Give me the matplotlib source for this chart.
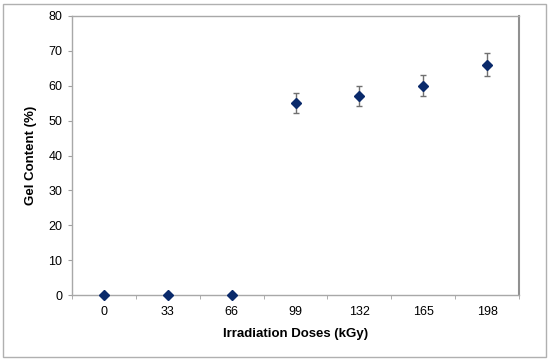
import matplotlib
matplotlib.use('Agg')
import matplotlib.pyplot as plt
from matplotlib.patches import Rectangle
import numpy as np

doses = ['0', '33', '66', '99', '132', '165', '198']
gel = [0, 0, 0, 55, 57, 60, 66]
err = [0, 0, 0, 2.8, 2.9, 3.0, 3.3]

plt.rcParams['font.family'] = ['Liberation Sans', 'DejaVu Sans']

fig = plt.figure(figsize=(5.5, 3.6), dpi=100)
ax = fig.add_axes([72/550, 1 - 295/360, 447/550, 279/360])

x = np.arange(len(doses))
has_err = np.array(err) > 0
ax.errorbar(x[has_err], np.array(gel)[has_err], yerr=np.array(err)[has_err],
            fmt='none', ecolor='#707070', elinewidth=1, capsize=2, capthick=1, zorder=2)
ax.plot(x, gel, linestyle='none', marker='D', markersize=5.5,
        color='#0a2a6b', markeredgecolor='#0a2a6b', zorder=3, clip_on=False)

ax.set_xlim(-0.5, len(doses) - 0.5)
ax.set_ylim(0, 80)
ax.set_yticks(range(0, 81, 10))
ax.set_xticks(x)
ax.set_xticklabels(doses)
ax.set_xticks(np.arange(-0.5, len(doses), 1), minor=True)
ax.tick_params(axis='x', which='major', length=0, pad=8, labelsize=9)
ax.tick_params(axis='x', which='minor', length=3, color='#a0a0a0', direction='out')
ax.tick_params(axis='y', length=3, color='#a0a0a0', direction='out', labelsize=9, pad=4)

for side in ['left', 'bottom', 'top']:
    ax.spines[side].set_color('#a8a8a8')
    ax.spines[side].set_linewidth(1)
ax.spines['right'].set_color('#909090')
ax.spines['right'].set_linewidth(1.5)

ax.set_xlabel('Irradiation Doses (kGy)', fontsize=9.5, fontweight='bold', labelpad=7)
ax.set_ylabel('Gel Content (%)', fontsize=9.5, fontweight='bold', labelpad=8)

fig.patches.append(Rectangle((3/550, 3/360), 543/550, 353/360, transform=fig.transFigure,
                             fill=False, edgecolor='#b0b0b0', linewidth=1))

fig.savefig('out.png', dpi=100)
